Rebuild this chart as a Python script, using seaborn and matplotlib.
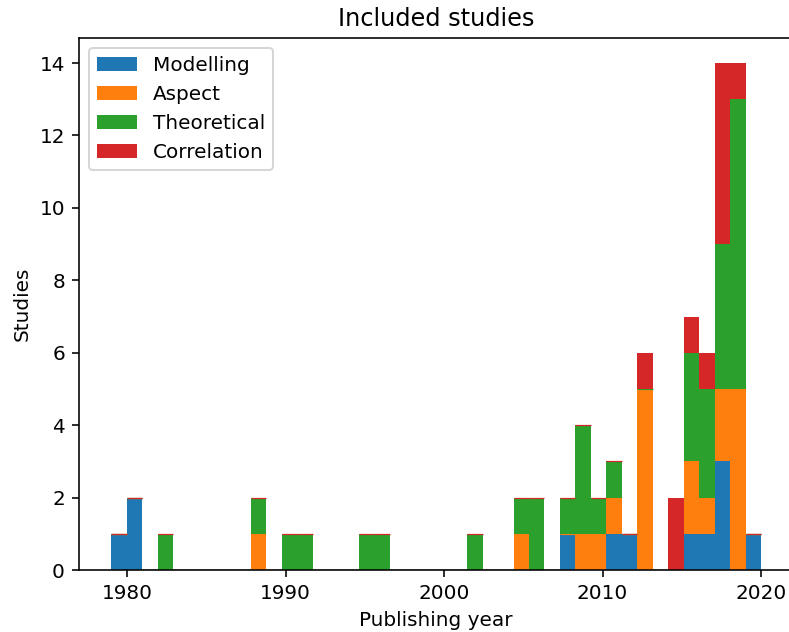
import pandas as pd
import seaborn as sns
import matplotlib.pyplot as plt
from matplotlib.patches import Patch

# Publication years of the included studies, one entry per study
modelling_years = [1979, 1980, 1980, 2008, 2011, 2012, 2016, 2017,
                   2018, 2018, 2018, 2020]
aspect_years = [1988, 2005, 2009, 2010, 2011,
                2013, 2013, 2013, 2013, 2013,
                2016, 2016, 2017, 2018, 2018,
                2019, 2019, 2019, 2019, 2019]
theoretical_years = [1982, 1988, 1990, 1991, 1995, 1996, 2002, 2005,
                     2006, 2006, 2008, 2009, 2009, 2009, 2010, 2011,
                     2016, 2016, 2016, 2017, 2017, 2017,
                     2018, 2018, 2018, 2018,
                     2019, 2019, 2019, 2019, 2019, 2019, 2019, 2019]
correlation_years = [2013, 2015, 2015, 2016, 2017,
                     2018, 2018, 2018, 2018, 2018, 2019]

categories = ["Modelling", "Aspect", "Theoretical", "Correlation"]
colors = ["#1f77b4", "#ff7f0e", "#2ca02c", "#d62728"]

df = pd.concat([
    pd.DataFrame({"year": modelling_years, "type": "Modelling"}),
    pd.DataFrame({"year": aspect_years, "type": "Aspect"}),
    pd.DataFrame({"year": theoretical_years, "type": "Theoretical"}),
    pd.DataFrame({"year": correlation_years, "type": "Correlation"}),
], ignore_index=True)

fig = plt.figure(figsize=(789 / 144, 632 / 144), dpi=144)
ax = fig.add_axes([0.1001, 0.0981, 0.9056, 0.8422])

# seaborn stacks the last hue level at the bottom, so pass the order reversed
sns.histplot(data=df, x="year", hue="type", hue_order=categories[::-1],
             palette=dict(zip(categories, colors)), multiple="stack",
             bins=42, alpha=1, linewidth=0, legend=False, ax=ax)

# empty stacked segments show up as a thin line on top of the bar
for p in ax.patches:
    if p.get_height() == 0:
        p.set_edgecolor(p.get_facecolor())
        p.set_linewidth(0.6)

ax.set_title("Included studies")
ax.set_xlabel("Publishing year")
ax.set_ylabel("Studies")
ax.set_xticks([1980, 1990, 2000, 2010, 2020])
ax.set_yticks(range(0, 15, 2))

handles = [Patch(facecolor=c, label=l) for l, c in zip(categories, colors)]
ax.legend(handles=handles, loc="upper left")

fig.savefig("out.png", dpi=144)
